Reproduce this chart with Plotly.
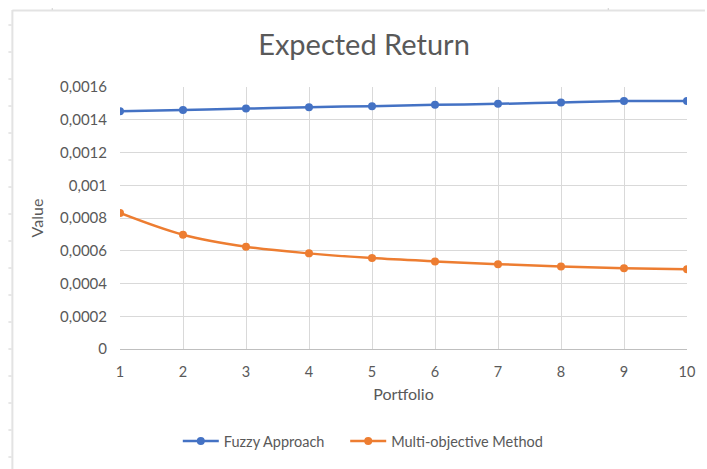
import plotly.graph_objects as go

portfolio = [1, 2, 3, 4, 5, 6, 7, 8, 9, 10]
fuzzy_approach = [0.001452, 0.001460, 0.001468, 0.001477, 0.001483,
                  0.001491, 0.001497, 0.001506, 0.001514, 0.001515]
multi_objective = [0.000831, 0.000698, 0.000625, 0.000584, 0.000555,
                   0.000535, 0.000518, 0.000504, 0.000493, 0.000487]
y_tickvals = [0, 0.0002, 0.0004, 0.0006, 0.0008, 0.001, 0.0012, 0.0014, 0.0016]
y_ticktext = ["0", "0,0002", "0,0004", "0,0006", "0,0008", "0,001", "0,0012", "0,0014", "0,0016"]

BLUE = "#4472C4"
ORANGE = "#ED7D31"
TEXT = "#595959"
GRID = "#D9D9D9"
FONT = "Lato"

W, H = 707, 469
ML, MR, MT, MB = 120, 18, 87, 120
plot_w = W - ML - MR
plot_h = H - MT - MB


def px_x(px):
    return (px - ML) / plot_w


def px_y(py):
    return (H - MB - py) / plot_h


fig = go.Figure()
fig.add_trace(go.Scatter(
    x=portfolio, y=fuzzy_approach, name="Fuzzy Approach",
    mode="lines+markers", line=dict(color=BLUE, width=2.5, shape="spline"),
    marker=dict(color=BLUE, size=8), legend="legend", showlegend=True,
))
fig.add_trace(go.Scatter(
    x=portfolio, y=multi_objective, name="Multi-objective Method",
    mode="lines+markers", line=dict(color=ORANGE, width=2.5, shape="spline"),
    marker=dict(color=ORANGE, size=8), legend="legend2", showlegend=True,
))

legend_style = dict(orientation="h", xanchor="left", yanchor="middle", y=px_y(441),
                    font=dict(size=14.5, color=TEXT), itemwidth=36,
                    bgcolor="rgba(0,0,0,0)", visible=True)

fig.update_layout(
    width=W, height=H,
    margin=dict(l=ML, r=MR, t=MT, b=MB),
    paper_bgcolor="white", plot_bgcolor="white",
    showlegend=True,
    font=dict(family=FONT, color=TEXT, size=14),
    title=dict(text="Expected Return", x=364 / W, xanchor="center", y=0.905, yanchor="middle",
               font=dict(family=FONT, size=29, color=TEXT)),
    xaxis=dict(
        range=[1, 10], tickvals=portfolio, ticktext=[str(p) for p in portfolio],
        showgrid=True, gridcolor=GRID, gridwidth=1,
        showline=True, linecolor="#BFBFBF", linewidth=1, mirror=False,
        zeroline=False, ticks="", ticklabelstandoff=10,
        title=dict(text="Portfolio", font=dict(size=16, color=TEXT), standoff=9),
        tickfont=dict(size=14.5, color=TEXT),
    ),
    yaxis=dict(
        range=[0, 0.0016], tickvals=y_tickvals, ticktext=y_ticktext,
        showgrid=True, gridcolor=GRID, gridwidth=1,
        zeroline=False, showline=False, ticks="", ticklabelstandoff=12,
        title=dict(text="Value", font=dict(size=16, color=TEXT), standoff=12),
        tickfont=dict(size=15, color=TEXT),
    ),
    legend=dict(x=px_x(178), **legend_style),
    legend2=dict(x=px_x(346), **legend_style),
)

# Chart frame: left and top edges, plus faint sheet row/column marks
FRAME = "#E3E3E3"
fig.add_shape(type="line", xref="paper", yref="paper",
              x0=px_x(12), x1=px_x(W), y0=px_y(10.5), y1=px_y(10.5),
              line=dict(color=FRAME, width=2), layer="below")
fig.add_shape(type="line", xref="paper", yref="paper",
              x0=px_x(12), x1=px_x(12), y0=px_y(10), y1=px_y(H),
              line=dict(color=FRAME, width=2), layer="below")
for row_y in range(25, H, 27):
    fig.add_shape(type="line", xref="paper", yref="paper",
                  x0=px_x(8), x1=px_x(11), y0=px_y(row_y), y1=px_y(row_y),
                  line=dict(color="#D0D0D0", width=1), layer="below")
for col_x in (52, 610):
    fig.add_shape(type="line", xref="paper", yref="paper",
                  x0=px_x(col_x), x1=px_x(col_x), y0=px_y(8), y1=px_y(10),
                  line=dict(color="#D0D0D0", width=1), layer="below")

fig.write_html("out.html")
